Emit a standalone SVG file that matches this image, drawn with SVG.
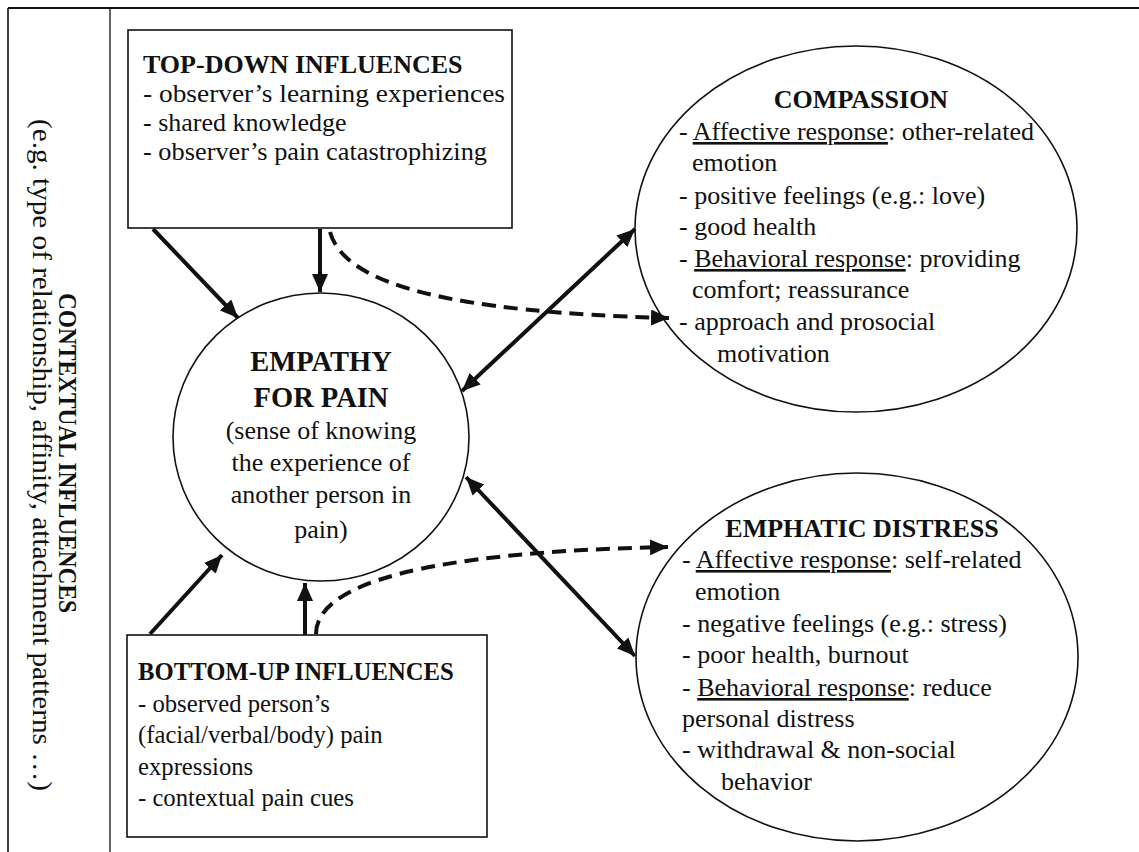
<svg xmlns="http://www.w3.org/2000/svg" width="1139" height="852" viewBox="0 0 1139 852">
<style>
.t{fill:#111;font-size:26px}
.b{font-weight:bold}
.u{text-decoration:underline}
.shape{fill:#fff;stroke:#111;stroke-width:1.6}
.arr{stroke:#111;stroke-width:4;fill:none}
.dash{stroke:#111;stroke-width:4;fill:none;stroke-dasharray:14 8}
.frame{stroke:#111;fill:none}
</style>
<defs>
<marker id="ah" markerUnits="userSpaceOnUse" markerWidth="19" markerHeight="16" refX="18" refY="8" orient="auto-start-reverse">
<path d="M0,0 L18,8 L0,16 z" fill="#111"/>
</marker>
</defs>
<rect width="1139" height="852" fill="#fff"/>
<g id="frame">
<line class="frame" x1="8" y1="8" x2="1139" y2="8" stroke-width="2"/>
<line class="frame" x1="8" y1="8" x2="8" y2="852" stroke-width="1.6"/>
<line class="frame" x1="110" y1="8" x2="110" y2="852" stroke-width="1.3"/>
</g>
<g class="t" font-family="Liberation Serif, Times New Roman, DejaVu Serif, serif">
<g id="contextual">
<text class="b" text-anchor="middle" transform="translate(59,453) rotate(90)" textLength="320" lengthAdjust="spacingAndGlyphs">CONTEXTUAL INFLUENCES</text>
<text text-anchor="middle" font-size="27" transform="translate(33,455) rotate(90)" textLength="672" lengthAdjust="spacingAndGlyphs">(e.g. type of relationship, affinity, attachment patterns …)</text>
</g>
<g id="topdown">
<rect class="shape" x="128" y="30" width="384" height="198"/>
<text class="b" x="143" y="73">TOP-DOWN INFLUENCES</text>
<text x="143" y="102" textLength="362" lengthAdjust="spacingAndGlyphs">- observer’s learning experiences</text>
<text x="143" y="131">- shared knowledge</text>
<text x="143" y="160" textLength="344" lengthAdjust="spacingAndGlyphs">- observer’s pain catastrophizing</text>
</g>
<g id="bottomup" font-size="24.7">
<rect class="shape" x="127" y="635" width="360" height="202"/>
<text class="b" x="138" y="680">BOTTOM-UP INFLUENCES</text>
<text x="138" y="712">- observed person’s</text>
<text x="138" y="743">(facial/verbal/body) pain</text>
<text x="138" y="775">expressions</text>
<text x="138" y="806">- contextual pain cues</text>
</g>
<g id="empathy">
<ellipse class="shape" cx="321" cy="437" rx="148" ry="144"/>
<text class="b" x="321" y="371" text-anchor="middle" font-size="28.5">EMPATHY</text>
<text class="b" x="321" y="407" text-anchor="middle" font-size="28.5">FOR PAIN</text>
<text x="321" y="439" text-anchor="middle">(sense of knowing</text>
<text x="321" y="471" text-anchor="middle">the experience of</text>
<text x="321" y="503" text-anchor="middle">another person in</text>
<text x="321" y="538" text-anchor="middle">pain)</text>
</g>
<g id="compassion">
<ellipse class="shape" cx="856" cy="229" rx="221" ry="183"/>
<text class="b" x="861" y="108" text-anchor="middle">COMPASSION</text>
<text x="679" y="140">- <tspan class="u">Affective response</tspan>: other-related</text>
<text x="692" y="171">emotion</text>
<text x="679" y="204">- positive feelings (e.g.: love)</text>
<text x="679" y="235">- good health</text>
<text x="679" y="267">- <tspan class="u">Behavioral response</tspan>: providing</text>
<text x="692" y="298">comfort; reassurance</text>
<text x="679" y="330">- approach and prosocial</text>
<text x="717" y="362">motivation</text>
</g>
<g id="distress">
<ellipse class="shape" cx="857" cy="657" rx="221" ry="184"/>
<text class="b" x="862" y="537" text-anchor="middle">EMPHATIC DISTRESS</text>
<text x="682" y="568">- <tspan class="u">Affective response</tspan>: self-related</text>
<text x="695" y="600">emotion</text>
<text x="682" y="632">- negative feelings (e.g.: stress)</text>
<text x="682" y="663">- poor health, burnout</text>
<text x="682" y="696">- <tspan class="u">Behavioral response</tspan>: reduce</text>
<text x="682" y="727">personal distress</text>
<text x="682" y="758">- withdrawal &amp; non-social</text>
<text x="721" y="790">behavior</text>
</g>
</g>
<g id="connectors">
<line class="arr" x1="153" y1="229" x2="238" y2="318" marker-end="url(#ah)"/>
<line class="arr" x1="320" y1="229" x2="320" y2="292" marker-end="url(#ah)"/>
<path class="dash" d="M330,232 C345,285 450,312 669,318" marker-end="url(#ah)"/>
<line class="arr" x1="462" y1="391" x2="635" y2="229" marker-start="url(#ah)" marker-end="url(#ah)"/>
<line class="arr" x1="466" y1="477" x2="635" y2="656" marker-start="url(#ah)" marker-end="url(#ah)"/>
<line class="arr" x1="150" y1="634" x2="222" y2="555" marker-end="url(#ah)"/>
<line class="arr" x1="305" y1="635" x2="305" y2="583" marker-end="url(#ah)"/>
<path class="dash" d="M316,634 C316,585 420,552 668,547" marker-end="url(#ah)"/>
</g>
</svg>
